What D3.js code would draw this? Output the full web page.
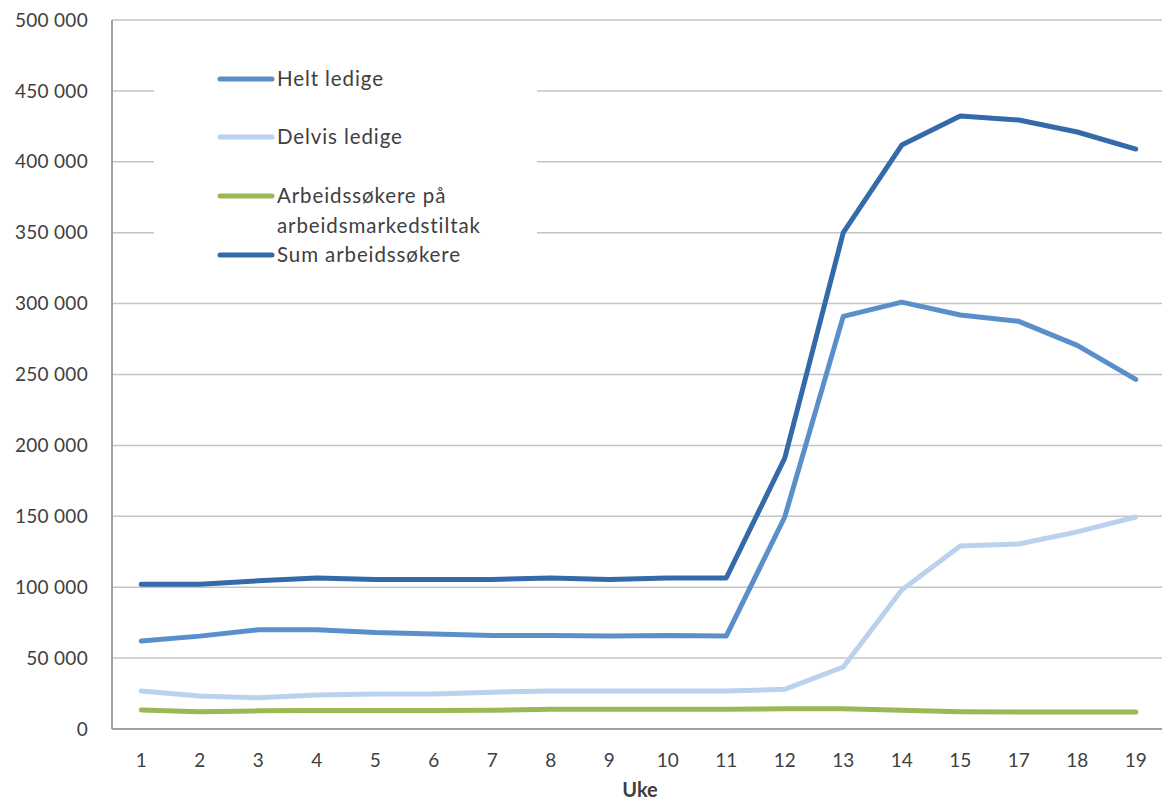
<!DOCTYPE html>
<html><head><meta charset="utf-8">
<script src="https://cdn.jsdelivr.net/npm/d3@7"></script>
<style>body{margin:0;background:#fff}svg{display:block}text{font-family:Lato,"Open Sans",sans-serif;fill:#404040}</style>
</head><body>
<svg id="c" width="1162" height="801"></svg>
<script>
const weeks = ["1","2","3","4","5","6","7","8","9","10","11","12","13","14","15","17","18","19"];
const heltLedige = [62000,65500,70000,70000,68000,67000,66000,66000,65500,66000,65500,149500,291000,301000,292000,287500,270500,246500];
const delvisLedige = [26800,23300,22000,24000,24700,24700,26000,26800,26800,26800,26800,28000,43700,98000,129000,130500,139000,149500];
const tiltak = [13400,12200,12800,13000,13000,13000,13200,14000,14000,14000,14000,14200,14200,13200,12200,12000,12000,12000];
const sumSokere = [102000,102000,104500,106500,105500,105500,105500,106500,105500,106500,106500,191000,350000,411800,432300,429500,421000,409000];
const yTicks = [0,50000,100000,150000,200000,250000,300000,350000,400000,450000,500000];

const series = [
  {name:["Helt ledige"], values:heltLedige, color:"#5a8fca"},
  {name:["Delvis ledige"], values:delvisLedige, color:"#bad2ee"},
  {name:["Arbeidssøkere på","arbeidsmarkedstiltak"], values:tiltak, color:"#98b954"},
  {name:["Sum arbeidssøkere"], values:sumSokere, color:"#346aa9"}
];

const svg = d3.select("#c");
const L = 112, R = 1165, T = 20, B = 729;
const x = d3.scalePoint().domain(weeks).range([L, R]).padding(0.5);
const y = d3.scaleLinear().domain([0, 500000]).range([B, T]);
const fmt = v => d3.format(",")(v).replace(/,/g, " ");

// gridlines
svg.append("g").selectAll("line").data(yTicks.filter(d => d > 0)).join("line")
  .attr("x1", L).attr("x2", 1162).attr("y1", d => y(d)).attr("y2", d => y(d))
  .attr("stroke", "#c4c4c4").attr("stroke-width", 1.5);

// y tick labels
svg.append("g").selectAll("text").data(yTicks).join("text")
  .attr("x", 88).attr("y", d => y(d)).attr("dy", "0.35em").attr("text-anchor", "end")
  .attr("font-size", 19).attr("letter-spacing", 0.3).text(d => fmt(d));

// x labels
svg.append("g").selectAll("text").data(weeks).join("text")
  .attr("x", d => x(d)).attr("y", 760).attr("dy", "0.35em").attr("text-anchor", "middle")
  .attr("font-size", 19).text(d => d);

svg.append("text").attr("x", 640).attr("y", 790).attr("dy", "0.35em").attr("text-anchor", "middle")
  .attr("font-size", 20).attr("font-weight", "bold").text("Uke");

// legend background (covers gridlines)
svg.append("rect").attr("x", 154).attr("y", 40).attr("width", 383).attr("height", 250).attr("fill", "#fff");

// axes
svg.append("line").attr("x1", L).attr("x2", 1162).attr("y1", B).attr("y2", B).attr("stroke", "#a0a0a0").attr("stroke-width", 2);
svg.append("line").attr("x1", L).attr("x2", L).attr("y1", T).attr("y2", B).attr("stroke", "#a0a0a0").attr("stroke-width", 2);

// lines
const line = d3.line().x((d, i) => x(weeks[i])).y(d => y(d));
svg.append("g").selectAll("path").data(series).join("path")
  .attr("d", s => line(s.values)).attr("fill", "none").attr("stroke", s => s.color)
  .attr("stroke-width", 5).attr("stroke-linejoin", "round").attr("stroke-linecap", "round");

// legend
const legY = [79, 137, 196, 255];
const lg = svg.append("g");
series.forEach((s, i) => {
  lg.append("line").attr("x1", 220).attr("x2", 272).attr("y1", legY[i]).attr("y2", legY[i])
    .attr("stroke", s.color).attr("stroke-width", 5).attr("stroke-linecap", "round");
  s.name.forEach((t, j) => {
    lg.append("text").attr("x", 277).attr("y", legY[i] + j * 30).attr("dy", "0.35em")
      .attr("font-size", 20.5).attr("letter-spacing", 0.9).text(t);
  });
});
</script>
</body></html>
